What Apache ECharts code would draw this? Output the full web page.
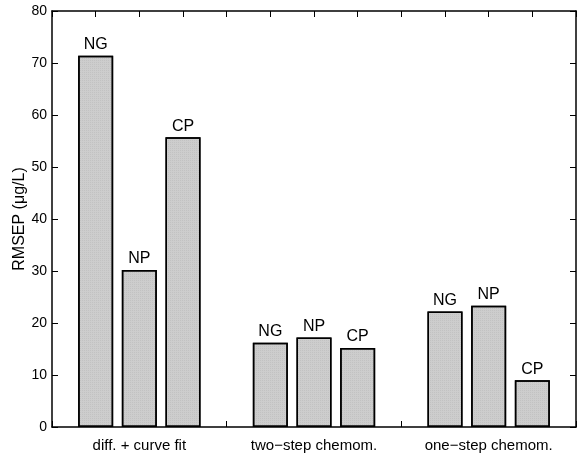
<!DOCTYPE html>
<html>
<head>
<meta charset="utf-8">
<script src="https://cdn.jsdelivr.net/npm/echarts@6/dist/echarts.min.js"></script>
<style>
  html, body { margin: 0; padding: 0; background: #fff; }
  #chart { width: 581px; height: 458px; }
</style>
</head>
<body>
<div id="chart"></div>
<script>
const groups = ['diff. + curve fit', 'two\u2212step chemom.', 'one\u2212step chemom.']
const methods = ['NG', 'NP', 'CP']
const diffCurveFit = [71.4, 30.2, 55.7]
const twoStep = [16.2, 17.2, 15.2]
const oneStep = [22.2, 23.3, 9.0]
const yTicks = [0, 10, 20, 30, 40, 50, 60, 70, 80]

const groupValues = [diffCurveFit, twoStep, oneStep]
const fontFamily = '"Liberation Sans", Arial, sans-serif'

// each group takes 4 slots on the x axis: 3 bars + a gap
const barData = []
groupValues.forEach((vals, g) => {
  vals.forEach((v, i) => {
    barData.push({ value: [g * 4 + i + 1, v], label: { formatter: methods[i] } })
  })
})
const groupCenter = {}
groups.forEach((name, g) => { groupCenter[g * 4 + 2] = name })

const tick = { show: true, inside: true, length: 6, lineStyle: { color: '#000', width: 1 } }
const line = { show: true, onZero: false, lineStyle: { color: '#000', width: 1.5 } }

const chart = echarts.init(document.getElementById('chart'))
chart.setOption({
  backgroundColor: '#fff',
  animation: false,
  grid: {
    left: 52,
    right: 5,
    top: 11,
    bottom: 31,
    containLabel: false,
    outerBoundsMode: 'none'
  },
  xAxis: [{
    type: 'value',
    min: 0,
    max: 12,
    interval: 1,
    axisLine: line,
    axisTick: tick,
    splitLine: { show: false },
    axisLabel: {
      margin: 11,
      color: '#000',
      fontSize: 15,
      fontFamily: fontFamily,
      formatter: v => groupCenter[v] || ''
    }
  }, {
    type: 'value',
    position: 'top',
    min: 0,
    max: 12,
    interval: 1,
    axisLine: line,
    axisTick: tick,
    axisLabel: { show: false },
    splitLine: { show: false }
  }],
  yAxis: [{
    type: 'value',
    min: 0,
    max: 80,
    interval: 10,
    name: 'RMSEP (\u03bcg/L)',
    nameLocation: 'middle',
    nameGap: 24,
    nameMoveOverlap: false,
    nameTextStyle: {
      color: '#000',
      fontSize: 16,
      fontFamily: fontFamily
    },
    axisLine: line,
    axisTick: tick,
    splitLine: { show: false },
    axisLabel: {
      margin: 5,
      color: '#000',
      fontSize: 14,
      fontFamily: fontFamily,
      formatter: v => (yTicks.indexOf(v) >= 0 ? String(v) : '')
    }
  }, {
    type: 'value',
    position: 'right',
    min: 0,
    max: 80,
    interval: 10,
    axisLine: line,
    axisTick: tick,
    axisLabel: { show: false },
    splitLine: { show: false }
  }],
  series: [{
    type: 'bar',
    xAxisIndex: 0,
    yAxisIndex: 0,
    barWidth: 35,
    data: barData,
    itemStyle: {
      color: '#cdcdcd',
      borderColor: '#000',
      borderWidth: 1.5,
      decal: {
        symbol: 'rect',
        symbolSize: 0.5,
        color: 'rgba(80, 80, 80, 0.35)',
        dashArrayX: [1, 1],
        dashArrayY: [1, 1],
        rotation: 0
      }
    },
    label: {
      show: true,
      position: 'top',
      distance: 3,
      color: '#000',
      fontSize: 16,
      fontFamily: fontFamily
    }
  }]
})
</script>
</body>
</html>
